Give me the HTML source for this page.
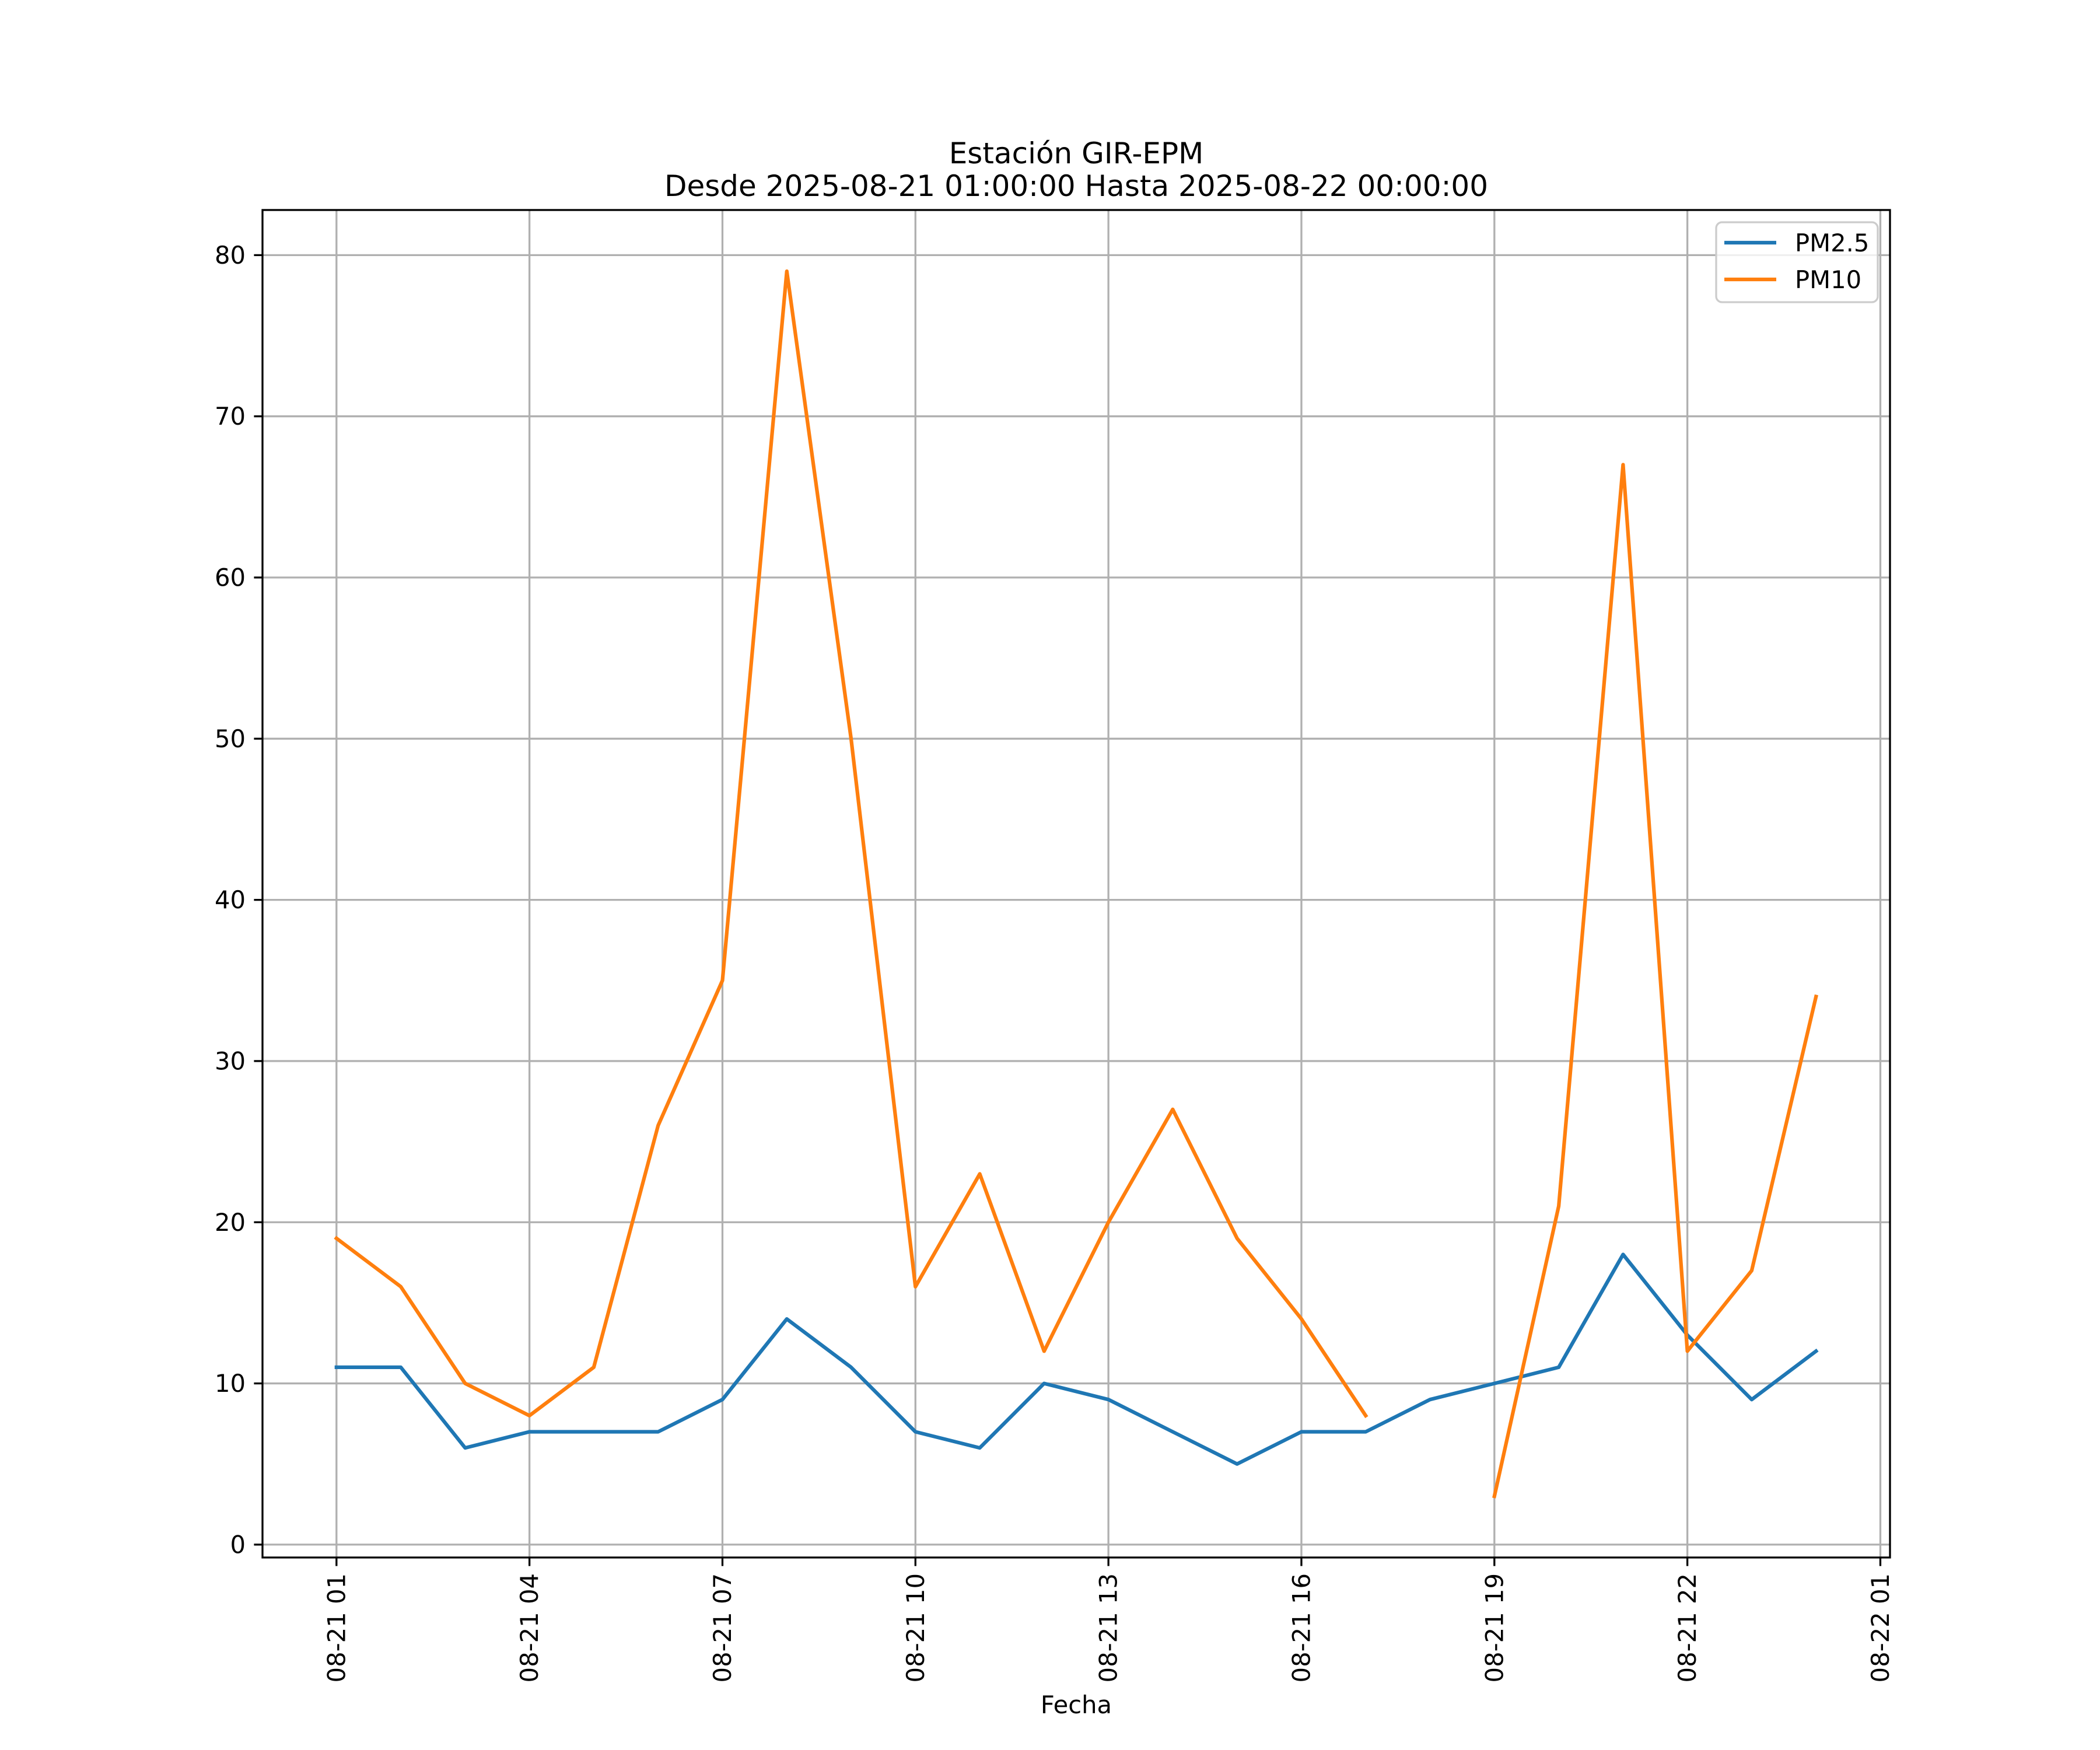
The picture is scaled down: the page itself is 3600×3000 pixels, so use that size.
<!DOCTYPE html>
<html><head><meta charset="utf-8"><style>body{margin:0;background:#fff}svg{display:block;font-family:"DejaVu Sans","Liberation Sans",sans-serif}</style></head>
<body>
<svg id="chart" width="3600" height="3000" viewBox="0 0 3600 3000" xmlns="http://www.w3.org/2000/svg">
<rect width="3600" height="3000" fill="#fff"/>
<text x="1845" y="280" font-size="50" text-anchor="middle">Estación GIR-EPM</text>
<text x="1845" y="336" font-size="50" text-anchor="middle">Desde 2025-08-21 01:00:00 Hasta 2025-08-22 00:00:00</text>
<g id="grid"></g><g id="series"></g><g id="axes"></g>
<text x="1845" y="2937" font-size="41.7" text-anchor="middle">Fecha</text>
<g>
<rect x="2942" y="381" width="277" height="137" rx="10" fill="#fff" fill-opacity="0.8" stroke="#cccccc" stroke-width="3.3"/>
<line x1="2956" y1="416" x2="3045" y2="416" stroke="#1f77b4" stroke-width="6.25"/>
<text x="3077" y="431" font-size="41.7">PM2.5</text>
<line x1="2956" y1="479" x2="3045" y2="479" stroke="#ff7f0e" stroke-width="6.25"/>
<text x="3077" y="494" font-size="41.7">PM10</text>
</g>
</svg>
<script>
const hours = [1,2,3,4,5,6,7,8,9,10,11,12,13,14,15,16,17,18,19,20,21,22,23,24];
const pm25 = [11,11,6,7,7,7,9,14,11,7,6,10,9,7,5,7,7,9,10,11,18,13,9,12];
const pm10 = [19,16,10,8,11,26,35,79,50,16,23,12,20,27,19,14,8,null,3,21,67,12,17,34];
const xTickHours = [1,4,7,10,13,16,19,22,25];
const xTickLabels = ["08-21 01","08-21 04","08-21 07","08-21 10","08-21 13","08-21 16","08-21 19","08-21 22","08-22 01"];
const yTicks = [0,10,20,30,40,50,60,70,80];

const L=450,R=3240,T=360,B=2670;
const xmin=1-1.15, xmax=24+1.15;
const ymin=-0.8, ymax=82.8;
const X=h=>L+(h-xmin)/(xmax-xmin)*(R-L);
const Y=v=>B-(v-ymin)/(ymax-ymin)*(B-T);
const NS="http://www.w3.org/2000/svg";
function mk(tag,attrs,parent){const e=document.createElementNS(NS,tag);for(const k in attrs)e.setAttribute(k,attrs[k]);parent.appendChild(e);return e;}
const grid=document.getElementById('grid'),axes=document.getElementById('axes'),series=document.getElementById('series');
xTickHours.forEach((h,i)=>{
  const x=X(h);
  const g=mk('line',{x1:x,y1:T,x2:x,y2:B,stroke:'#b0b0b0','stroke-width':3.3},grid);
  
  
  mk('line',{x1:x,y1:B,x2:x,y2:B+14.6,stroke:'#000','stroke-width':3.3},axes);
  const t=mk('text',{x:0,y:0,'font-size':41.7,'text-anchor':'end','dominant-baseline':'central',transform:`translate(${x},${B+27}) rotate(-90)`},axes);
  t.textContent=xTickLabels[i];
  
  
});
yTicks.forEach(v=>{
  const y=Y(v);
  const g=mk('line',{x1:L,y1:y,x2:R,y2:y,stroke:'#b0b0b0','stroke-width':3.3},grid);
  
  
  mk('line',{x1:L-14.6,y1:y,x2:L,y2:y,stroke:'#000','stroke-width':3.3},axes);
  const t=mk('text',{x:L-29,y:y,'font-size':41.7,'text-anchor':'end','dominant-baseline':'central'},axes);
  t.textContent=v;
  
  
});
const frame=mk('rect',{x:L,y:T,width:R-L,height:B-T,fill:'none',stroke:'#000','stroke-width':3.3},axes);


function pathFor(vals){let d='',pen=false;vals.forEach((v,i)=>{if(v===null){pen=false;return;}d+=(pen?'L':'M')+X(hours[i]).toFixed(1)+' '+Y(v).toFixed(1)+' ';pen=true;});return d;}
const p1=mk('path',{d:pathFor(pm25),fill:'none',stroke:'#1f77b4','stroke-width':6.25,'stroke-linejoin':'round','stroke-linecap':'square'},series);


const p2=mk('path',{d:pathFor(pm10),fill:'none',stroke:'#ff7f0e','stroke-width':6.25,'stroke-linejoin':'round','stroke-linecap':'square'},series);


</script>
</body></html>
